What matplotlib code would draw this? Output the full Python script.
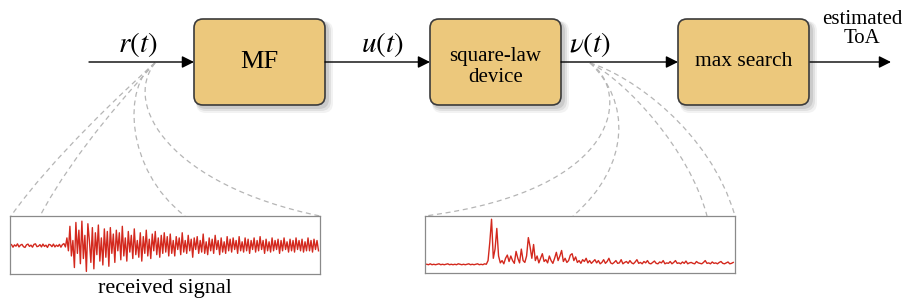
import numpy as np
import matplotlib.pyplot as plt
from matplotlib.patches import FancyBboxPatch, PathPatch
from matplotlib.path import Path

# block diagram content
blocks = ["MF", "square-law\ndevice", "max search"]
signal_labels = [r"$r(t)$", r"$u(t)$", r"$\nu(t)$"]
output_label = "estimated\nToA"
panel_caption = "received signal"

# received signal r(t), samples
received = [0.04, -0.06, 0.03, -0.02, 0.07, -0.05, 0.02, 0.05, -0.04, -0.07, 0.03, 0.06, -0.03, 0.02,
            -0.06, 0.05, 0.07, -0.04, -0.02, 0.04, -0.05, 0.06, -0.03, 0.02, -0.07, 0.05, 0.03, -0.04,
            0.06, -0.05, 0.02, -0.03, 0.05, -0.06, 0.04, 0.08, -0.05,
            0.3, -0.2, 0.75, -0.4, 0.2, -0.85, 0.9, -0.3, 0.6, -0.7, 0.95, -0.5, 0.4, -1.0, 0.85, 0.2,
            -0.65, 0.7, -0.9, 0.5, -0.35, 0.8, -0.6, 0.3, -0.75, 0.65, -0.45, 0.55, -0.8,
            0.7, -0.3, 0.45, -0.65, 0.6, -0.2, 0.5, -0.55, 0.75, -0.4, 0.3, -0.6, 0.55, -0.25, 0.4,
            -0.5, 0.65, -0.35, 0.2, -0.45, 0.5, -0.6, 0.35, -0.3, 0.6, -0.4, 0.25, -0.5, 0.45, -0.2,
            0.55, -0.35, 0.3, -0.45, 0.4, -0.3, 0.5, -0.25, 0.35, -0.4,
            0.45, -0.3, 0.2, -0.4, 0.35, -0.15, 0.3, -0.35, 0.5, -0.25, 0.2, -0.3, 0.4, -0.2, 0.25,
            -0.45, 0.3, -0.15, 0.35, -0.3, 0.2, -0.25, 0.45, -0.3, 0.15, -0.35, 0.3, -0.2, 0.25, -0.3,
            0.4, -0.15, 0.2, -0.35, 0.3, -0.25, 0.15, -0.3, 0.35, -0.2, 0.25, -0.25, 0.3, -0.15, 0.2,
            -0.3, 0.35, -0.2, 0.15, -0.25, 0.3, -0.2, 0.25, -0.3, 0.2, -0.15, 0.3, -0.25, 0.2, -0.2,
            0.35, -0.15, 0.2, -0.3, 0.25, -0.2, 0.15, -0.25, 0.3, -0.2, 0.2, -0.15, 0.25, -0.3, 0.2,
            -0.2, 0.3, -0.15, 0.15, -0.25, 0.25, -0.2, 0.2, -0.25, 0.3, -0.15, 0.2, -0.2, 0.25, -0.25,
            0.15, -0.2, 0.3, -0.2, 0.2, -0.25, 0.25, -0.15, 0.2, -0.2]

# squared signal v(t)
squared = [0.02, 0.01, 0.03, 0.01, 0.02, 0.01, 0.02, 0.03, 0.01, 0.02, 0.01, 0.02, 0.03, 0.01,
           0.02, 0.01, 0.02, 0.01, 0.03, 0.02, 0.01, 0.02, 0.01, 0.02, 0.03, 0.01, 0.02, 0.01,
           0.02, 0.03, 0.01, 0.02, 0.01, 0.03, 0.02,
           0.1, 0.5, 1.0, 0.15, 0.35, 0.8, 0.2, 0.05, 0.1, 0.03, 0.15, 0.22, 0.08, 0.2, 0.1, 0.04,
           0.3, 0.15, 0.05, 0.35, 0.1, 0.06, 0.2, 0.6, 0.4, 0.15, 0.45, 0.1, 0.2, 0.05, 0.15, 0.25,
           0.08, 0.12, 0.05, 0.2, 0.1, 0.04, 0.15, 0.28, 0.1, 0.2, 0.32, 0.08, 0.15, 0.06, 0.1,
           0.22, 0.25, 0.1, 0.18, 0.06, 0.1, 0.04, 0.12, 0.08, 0.15, 0.05, 0.1, 0.04, 0.08, 0.12,
           0.05, 0.1, 0.03, 0.06, 0.12, 0.04, 0.08, 0.15, 0.05, 0.03, 0.06, 0.1, 0.04, 0.05, 0.12,
           0.03, 0.06, 0.08, 0.04, 0.1, 0.05, 0.03, 0.07, 0.12, 0.04, 0.06, 0.03, 0.08, 0.05, 0.1,
           0.04, 0.03, 0.06, 0.09, 0.04, 0.03, 0.07, 0.05, 0.1, 0.03, 0.05, 0.04, 0.08, 0.03, 0.06,
           0.1, 0.04, 0.05, 0.03, 0.07, 0.04, 0.09, 0.03, 0.05, 0.06, 0.04, 0.03, 0.08, 0.05, 0.04,
           0.03, 0.06, 0.1, 0.04, 0.05, 0.03, 0.07, 0.04, 0.05, 0.03, 0.06, 0.08, 0.04, 0.03, 0.05,
           0.07, 0.03, 0.04, 0.06]

plt.rcParams['font.family'] = 'Liberation Serif'
plt.rcParams['mathtext.fontset'] = 'stix'

W, H = 906, 302
fig = plt.figure(figsize=(W / 100, H / 100), dpi=100)
ax = fig.add_axes([0, 0, 1, 1])
ax.set_xlim(0, W)
ax.set_ylim(H, 0)
ax.axis('off')

box_fill = '#ecc87c'
box_edge = '#3b3b3b'
yline = 62
box_x = [194, 430, 678]
box_w, box_top, box_h = 131, 19, 86
box_fs = [19, 15, 15.5]
text_dy = [0, 5, 0]

for bx, name, fs, dy in zip(box_x, blocks, box_fs, text_dy):
    # soft shadow
    for k, a in enumerate([0.05, 0.07, 0.09]):
        off = 6 - 2 * k
        sh = FancyBboxPatch((bx + 2, box_top + 2), box_w + off, box_h + off,
                            boxstyle="round,pad=0,rounding_size=10",
                            fc='black', ec='none', alpha=a, zorder=1)
        ax.add_patch(sh)
    b = FancyBboxPatch((bx, box_top), box_w, box_h,
                       boxstyle="round,pad=0,rounding_size=9",
                       fc=box_fill, ec=box_edge, lw=1.2, zorder=2)
    ax.add_patch(b)
    ax.text(bx + box_w / 2, box_top + box_h / 2 + dy, name, ha='center', va='center',
            fontsize=fs, linespacing=1.15, zorder=3)

# arrows along the main line
segments = [(89, 194), (325, 430), (561, 678), (810, 891)]
for x0, x1 in segments:
    ax.annotate('', xy=(x1, yline), xytext=(x0, yline),
                arrowprops=dict(arrowstyle='-|>', color='black', lw=1.0,
                                mutation_scale=18, shrinkA=0, shrinkB=0), zorder=4)

for xl, lab in zip([138, 382, 590], signal_labels):
    ax.text(xl, 52, lab, ha='center', va='baseline', fontsize=21)
ax.text(862, 29, output_label, ha='center', va='center', fontsize=15, linespacing=1.0)

# dashed zoom curves
def bez(p0, c1, c2, p1):
    path = Path([p0, c1, c2, p1], [Path.MOVETO, Path.CURVE4, Path.CURVE4, Path.CURVE4])
    ax.add_patch(PathPatch(path, fc='none', ec='#b5b5b5', lw=0.9, ls=(0, (4, 3)), zorder=1))

s = (155, 63)
bez(s, (130, 85), (50, 160), (11, 216))
bez(s, (135, 85), (75, 150), (40, 216))
bez(s, (122, 85), (125, 170), (185, 216))
bez(s, (122, 105), (170, 185), (320, 216))
s = (590, 63)
bez(s, (630, 90), (625, 190), (425, 216))
bez(s, (630, 100), (632, 165), (573, 216))
bez(s, (625, 80), (690, 150), (707, 216))
bez(s, (630, 75), (710, 130), (735, 216))

# signal panels
red = '#d3281d'
p1 = fig.add_axes([10 / W, 1 - 274 / H, 310 / W, 58 / H])
p1.plot(np.arange(len(received)), received, color=red, lw=1.0)
p1.set_xlim(-1, len(received))
p1.set_ylim(-1.1, 1.15)

p2 = fig.add_axes([425 / W, 1 - 273 / H, 310 / W, 57 / H])
p2.plot(np.arange(len(squared)), squared, color=red, lw=1.0)
p2.set_xlim(-1, len(squared))
p2.set_ylim(-0.17, 1.07)

for p in (p1, p2):
    p.set_xticks([])
    p.set_yticks([])
    for sp in p.spines.values():
        sp.set_color('#8a8a8a')
        sp.set_linewidth(0.9)

ax.text(165, 289, panel_caption, ha='center', va='center', fontsize=16)

plt.savefig('out.png', dpi=100)
